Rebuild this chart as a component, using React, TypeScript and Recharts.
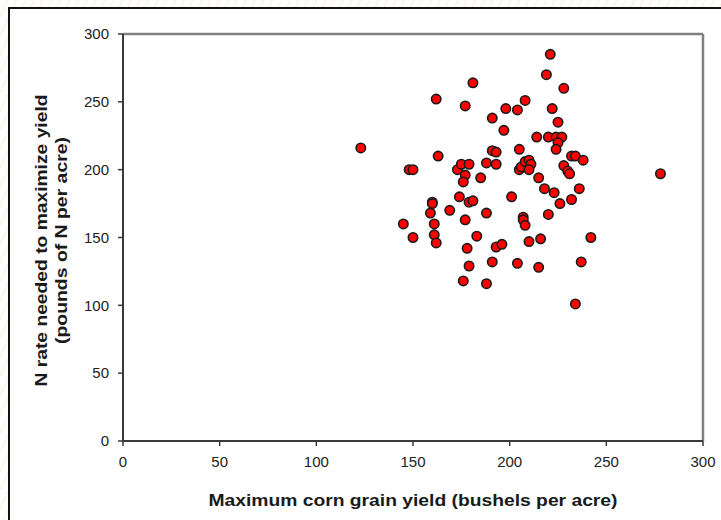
import React from 'react';
import { ScatterChart, Scatter, XAxis, YAxis, ReferenceLine, Label } from 'recharts';

// max yield (bu/acre) vs. economic optimum N rate (lb N/acre)
const yieldValues = [
  123, 148, 150, 145, 150, 162, 163, 160, 160, 159, 161, 161, 162, 169, 173, 175,
  177, 176, 179, 174, 177, 181, 179, 181, 177, 183, 178, 179, 176, 188, 188, 185,
  188, 191, 191, 193, 193, 197, 198, 191, 193, 196, 204, 208, 205, 205, 206, 208,
  210, 211, 210, 201, 207, 207, 208, 210, 204, 215, 216, 215, 214, 220, 218, 223,
  226, 220, 224, 227, 225, 224, 225, 222, 228, 219, 221, 228, 230, 231, 232, 234,
  238, 236, 232, 242, 237, 234, 278,
];
const nRateValues = [
  216, 200, 200, 160, 150, 252, 210, 176, 175, 168, 160, 152, 146, 170, 200, 204,
  196, 191, 204, 180, 247, 264, 176, 177, 163, 151, 142, 129, 118, 116, 168, 194,
  205, 238, 214, 213, 204, 229, 245, 132, 143, 145, 244, 251, 215, 200, 202, 206,
  207, 204, 200, 180, 165, 163, 159, 147, 131, 128, 149, 194, 224, 167, 186, 183,
  175, 224, 224, 224, 220, 215, 235, 245, 260, 270, 285, 203, 199, 197, 210, 210,
  207, 186, 178, 150, 132, 101, 197,
];
const tickValues = [0, 50, 100, 150, 200, 250, 300];

const points = yieldValues.map((x, i) => ({ x, y: nRateValues[i] }));

const FONT = 'Arial, "Liberation Sans", Helvetica, sans-serif';

const Dot = (props: any) => (
  <circle cx={props.cx} cy={props.cy} r={4.7} fill="#ff0000" stroke="#1a1a1a" strokeWidth={1.6} />
);

const YTitle = (props: any) => {
  const vb = props.viewBox;
  const cy = vb.y + vb.height / 2 + 3;
  return (
    <g fontFamily={FONT} fontWeight="bold" fontSize={17} fill="#1a1a1a">
      <text x={41} y={cy} transform={`rotate(-90, 41, ${cy})`} textAnchor="middle" dominantBaseline="central"
        textLength={292} lengthAdjust="spacingAndGlyphs">
        N rate needed to maximize yield
      </text>
      <text x={61} y={cy} transform={`rotate(-90, 61, ${cy})`} textAnchor="middle" dominantBaseline="central"
        textLength={207} lengthAdjust="spacingAndGlyphs">
        (pounds of N per acre)
      </text>
    </g>
  );
};

const XTitle = (props: any) => {
  const vb = props.viewBox;
  return (
    <text x={vb.x + vb.width / 2} y={506} textAnchor="middle" fontFamily={FONT} fontWeight="bold"
      fontSize={16} fill="#1a1a1a" textLength={409} lengthAdjust="spacingAndGlyphs">
      Maximum corn grain yield (bushels per acre)
    </text>
  );
};

export default function App() {
  return (
    <div style={{
      position: 'absolute', left: 0, top: 0, width: 721, height: 520, overflow: 'hidden',
      background: 'repeating-linear-gradient(115deg, #ffffff 0px, #ffffff 6px, #f7efd9 7px, #ffffff 8px)',
    }}>
      <div style={{
        position: 'absolute', left: 8, top: 7, width: 740, height: 540, background: '#fff',
        borderLeft: '2px solid #111', borderTop: '2px solid #111',
      }} />
      <div style={{ position: 'absolute', left: 0, top: 0 }}>
        <ScatterChart width={721} height={520} margin={{ top: 34, right: 18, bottom: 49, left: 63 }}>
          <XAxis type="number" dataKey="x" domain={[0, 300]} ticks={tickValues} height={30}
            axisLine={{ stroke: '#3a3a3a', strokeWidth: 2 }} tickLine={{ stroke: '#3a3a3a', strokeWidth: 1.5 }}
            tickSize={5} tickMargin={10} tick={{ fill: '#222', fontSize: 15, fontFamily: FONT }}>
            <Label content={<XTitle />} />
          </XAxis>
          <YAxis type="number" dataKey="y" domain={[0, 300]} ticks={tickValues} width={60}
            axisLine={{ stroke: '#3a3a3a', strokeWidth: 2 }} tickLine={{ stroke: '#3a3a3a', strokeWidth: 1.5 }}
            tickSize={5} tickMargin={9} tick={{ fill: '#222', fontSize: 15, fontFamily: FONT }}>
            <Label content={<YTitle />} />
          </YAxis>
          <ReferenceLine y={300} stroke="#808080" strokeWidth={2.5} />
          <ReferenceLine x={300} stroke="#808080" strokeWidth={2.5} />
          <Scatter data={points} shape={<Dot />} isAnimationActive={false} />
        </ScatterChart>
      </div>
    </div>
  );
}
